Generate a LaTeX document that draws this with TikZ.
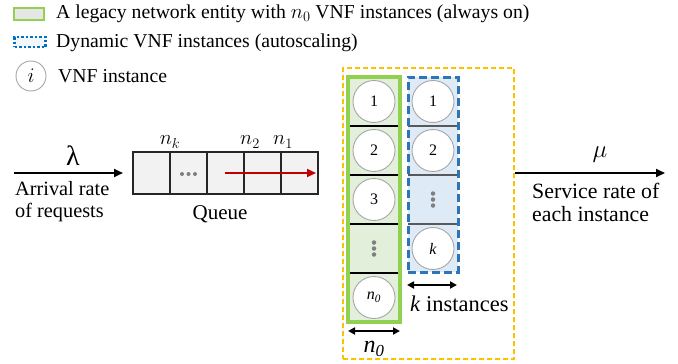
\documentclass[tikz,border=0pt]{standalone}
\usepackage{fontspec}
\setmainfont{Liberation Serif}
\usetikzlibrary{arrows.meta}
\definecolor{lgreen}{HTML}{92D050}
\definecolor{greenfill}{HTML}{E2EFDA}
\definecolor{lblue}{HTML}{2E75B6}
\definecolor{bluefill}{HTML}{DEEBF7}
\definecolor{legblue}{HTML}{0070C0}
\definecolor{legfill}{HTML}{E7E6E6}
\definecolor{orangeb}{HTML}{FFC000}
\definecolor{qfill}{HTML}{F2F2F2}
\definecolor{redarr}{HTML}{C00000}
\definecolor{cgray}{HTML}{A6A6A6}
\definecolor{dotgray}{HTML}{7F7F7F}
\begin{document}
\begin{tikzpicture}[x=1pt,y=-1pt,
  body/.style={font=\fontsize{21}{22.5}\selectfont, inner sep=0pt},
  legtext/.style={font=\fontsize{19.7}{22}\selectfont, inner sep=0pt, anchor=west},
  inst/.style={circle, draw=cgray, fill=white, line width=0.9pt, minimum size=42pt, inner sep=0pt, font=\fontsize{16}{18}\selectfont},
  qcell/.style={draw=black!85, fill=qfill, line width=1.2pt, minimum width=37pt, minimum height=42pt, inner sep=0pt},
  bigarrow/.style={line width=2.2pt, -{Triangle[length=9pt,width=8pt]}},
  dblarrow/.style={line width=2pt, {Triangle[length=7pt,width=7pt]}-{Triangle[length=7pt,width=7pt]}},
  vdot/.style={circle, fill=dotgray, inner sep=0pt, minimum size=4.5pt}
]
\useasboundingbox (0,0) rectangle (678,364);

% legend
\node[draw=lgreen, line width=2.8pt, fill=legfill, minimum width=30pt, minimum height=12pt, inner sep=0pt] (lg1) at (29,14) {};
\node[legtext] (lt1) at (56,14) {A legacy network entity with $n_0$ VNF instances (always on)};
\node[draw=legblue, line width=2.4pt, dash pattern=on 2.5pt off 2pt, fill=bluefill!40, minimum width=31pt, minimum height=10pt, inner sep=0pt] (lg2) at (30,42) {};
\node[legtext] (lt2) at (56,43) {Dynamic VNF instances (autoscaling)};
\node[circle, draw=cgray, line width=0.9pt, minimum size=30pt, inner sep=0pt, font=\fontsize{20}{22}\selectfont] (lg3) at (31,76) {$i$};
\node[legtext] (lt3) at (58,76) {VNF instance};

% arrival
\coordinate (lamstart) at (14,173);
\coordinate (lamend) at (123,173);
\draw[bigarrow] (lamstart) -- (lamend);
\node[font=\fontsize{28}{30}\selectfont, inner sep=0pt] (lam) at (73,156) {λ};
\node[body, font=\fontsize{20.3}{22.5}\selectfont, anchor=north west, align=left] (arr) at (15,181) {Arrival rate\\of requests};

% queue
\node[qcell] (q1) at (151.5,173) {};
\node[qcell] (q2) at (188.5,173) {};
\node[qcell] (q3) at (225.5,173) {};
\node[qcell] (q4) at (262.5,173) {};
\node[qcell] (q5) at (299.5,173) {};
\node[vdot, minimum size=4pt] (hd1) at (182,174) {};
\node[vdot, minimum size=4pt] (hd2) at (188.5,174) {};
\node[vdot, minimum size=4pt] (hd3) at (195,174) {};
\coordinate (redstart) at (225,173);
\coordinate (redend) at (316,173);
\draw[line width=2.2pt, redarr, -{Triangle[length=9pt,width=8pt]}] (redstart) -- (redend);
\node[font=\fontsize{22}{24}\selectfont, inner sep=0pt] (nk) at (170,142) {$n_k$};
\node[font=\fontsize{22}{24}\selectfont, inner sep=0pt] (n2) at (250,142) {$n_2$};
\node[font=\fontsize{22}{24}\selectfont, inner sep=0pt] (n1) at (283,142) {$n_1$};
\node[body] (queue) at (220,214) {Queue};

% orange box
\node[draw=orangeb, line width=1.6pt, dash pattern=on 5pt off 3pt, minimum width=171pt, minimum height=291pt, inner sep=0pt] (sys) at (428.5,213.5) {};

% green column
\fill[greenfill] (348,77) rectangle (400,322);
\foreach \yy in {126,175,224,273} \draw[line width=1.1pt, black] (348,\yy) -- (400,\yy);
\node[draw=lgreen, line width=3.2pt, minimum width=52pt, minimum height=245pt, inner sep=0pt] (gcol) at (374,199.5) {};
\node[inst] (g1) at (374,101.5) {1};
\node[inst] (g2) at (374,150.5) {2};
\node[inst] (g3) at (374,199.5) {3};
\node[vdot] (gd1) at (374,242.5) {};
\node[vdot] (gd2) at (374,248.5) {};
\node[vdot] (gd3) at (374,254.5) {};
\node[inst] (g0) at (374,297.5) {\textit{n}\textsubscript{\textit{0}}};

% blue column
\fill[bluefill] (408,77) rectangle (458,272);
\foreach \yy in {126,175,224} \draw[line width=1.1pt, black!65] (408,\yy) -- (458,\yy);
\node[draw=lblue, line width=3pt, dash pattern=on 8pt off 4pt, minimum width=50pt, minimum height=195pt, inner sep=0pt] (bcol) at (433,174.5) {};
\node[inst] (b1) at (433,101.5) {1};
\node[inst] (b2) at (433,150.5) {2};
\node[vdot] (bd1) at (433,193.5) {};
\node[vdot] (bd2) at (433,199.5) {};
\node[vdot] (bd3) at (433,205.5) {};
\node[inst] (bk) at (433,248.5) {\textit{k}};

% width arrows
\coordinate (gl) at (348,331);
\coordinate (gr) at (400,331);
\draw[dblarrow] (gl) -- (gr);
\node[font=\fontsize{24}{26}\selectfont, inner sep=0pt] (n0lab) at (374,349) {\textit{n}\textsubscript{\textit{0}}};
\coordinate (bl) at (407,285);
\coordinate (br) at (457,285);
\draw[dblarrow] (bl) -- (br);
\node[font=\fontsize{22.5}{24}\selectfont, inner sep=0pt, anchor=west] (kinst) at (410,304) {\textit{k} instances};

% service
\coordinate (muend) at (665,173);
\draw[bigarrow] (sys.east |- muend) -- (muend);
\node[font=\fontsize{24}{26}\selectfont, inner sep=0pt] (mu) at (600,155) {$\mu$};
\node[body, font=\fontsize{21.8}{22.5}\selectfont, anchor=north west, align=left] (serv) at (532,183) {Service rate of\\each instance};
\end{tikzpicture}
\end{document}
